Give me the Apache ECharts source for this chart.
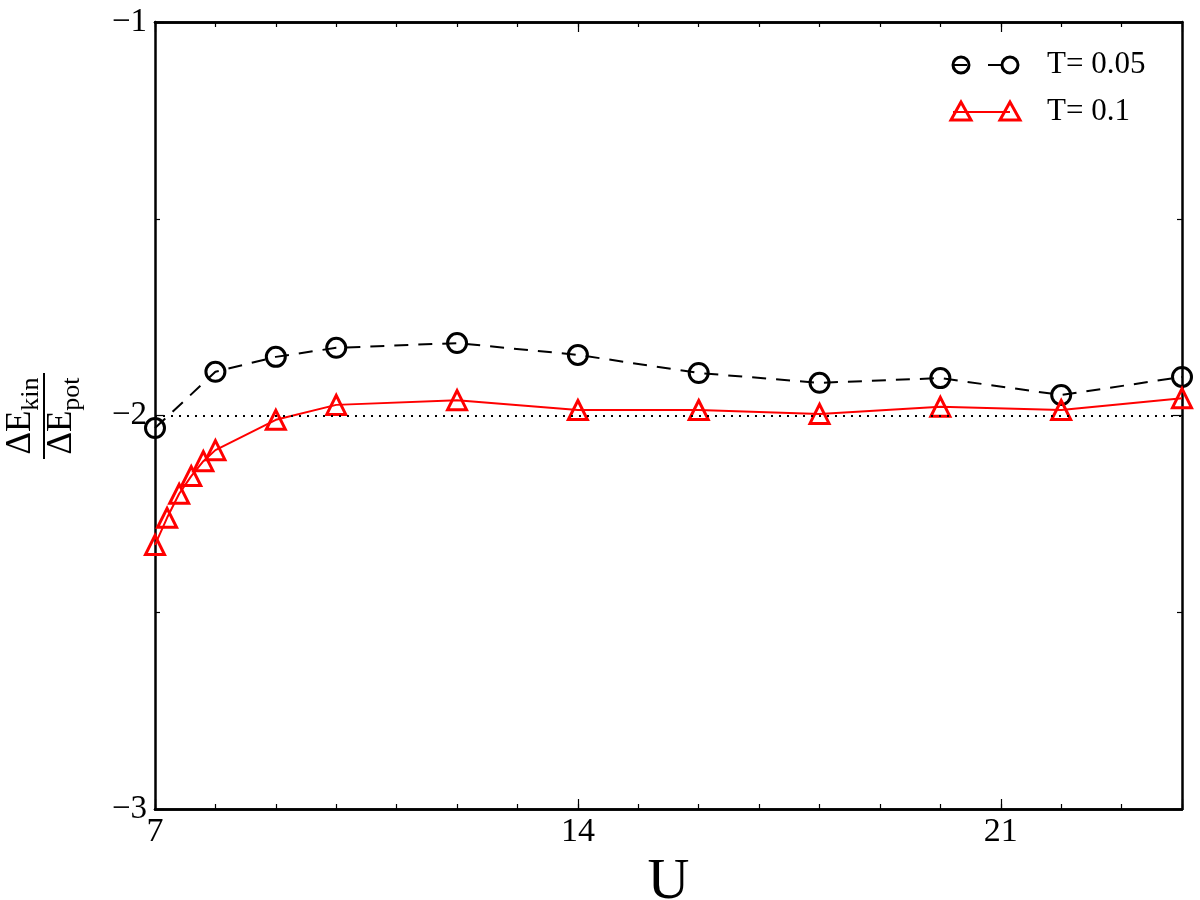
<!DOCTYPE html>
<html>
<head>
<meta charset="utf-8">
<script src="https://cdn.jsdelivr.net/npm/echarts@6/dist/echarts.min.js"></script>
<style>
  html, body { margin: 0; padding: 0; background: #fff; }
  #chart { width: 1200px; height: 900px; }
</style>
</head>
<body>
<div id="chart"></div>
<script>
// U 值
const uLow = [7, 8, 9, 10, 12, 14, 16, 18, 20, 22, 24];
const ratioLow = [-2.032, -1.889, -1.851, -1.828, -1.816, -1.846, -1.892, -1.917, -1.905, -1.948, -1.902];
const uHigh = [7, 7.2, 7.4, 7.6, 7.8, 8, 9, 10, 12, 14, 16, 18, 20, 22, 24];
const ratioHigh = [-2.329, -2.260, -2.199, -2.154, -2.116, -2.088, -2.011, -1.973, -1.961, -1.986, -1.986, -1.996, -1.978, -1.986, -1.956];
const seriesNames = ["T= 0.05", "T= 0.1"];
const xTicks = [7, 14, 21];
const yTicks = [-1, -2, -3];
const refLine = -2;

const serif = "'Liberation Serif', 'DejaVu Serif', serif";
const fmtMinus = v => (v < 0 ? "\u2212" + Math.abs(v) : String(v));

const chart = echarts.init(document.getElementById("chart"));

function pairs(xs, ys) {
  return xs.map((x, i) => [x, ys[i]]);
}

// x 轴: 主刻度 + 次刻度, 上下各一条
function xAxisOf(position, interval, tickLen, withLabel) {
  return {
    type: "value",
    position: position,
    min: 7,
    max: 24,
    interval: interval,
    axisLine: { show: true, onZero: false, lineStyle: { color: "#000", width: 2.5 } },
    axisTick: { show: true, inside: true, length: tickLen, lineStyle: { color: "#000", width: 1.2 } },
    axisLabel: {
      show: withLabel,
      color: "#000",
      fontFamily: serif,
      fontSize: 34,
      margin: 6,
      formatter: v => (xTicks.indexOf(v) >= 0 ? String(v) : "")
    },
    splitLine: { show: false },
    name: withLabel ? "U" : "",
    nameLocation: "middle",
    nameGap: 38,
    nameTextStyle: { color: "#000", fontFamily: serif, fontSize: 58, verticalAlign: "top" }
  };
}

function yAxisOf(position, withLabel) {
  return {
    type: "value",
    position: position,
    min: -3,
    max: -1,
    interval: 1,
    axisLine: { show: true, onZero: false, lineStyle: { color: "#000", width: 2.5 } },
    axisTick: { show: true, inside: true, length: 9, lineStyle: { color: "#000", width: 1.2 } },
    minorTick: { show: true, splitNumber: 2, length: 5, lineStyle: { color: "#000", width: 1.2 } },
    axisLabel: {
      show: withLabel,
      color: "#000",
      fontFamily: serif,
      fontSize: 33,
      margin: 8,
      formatter: v => (yTicks.indexOf(v) >= 0 ? fmtMinus(v) : "")
    },
    splitLine: { show: false }
  };
}

// 图例 (两端带标记)
function legendItem(y, name, color, dash, marker) {
  const kids = [
    {
      type: "line",
      shape: { x1: 953, y1: y, x2: 1010, y2: y },
      style: { stroke: color, lineWidth: 2, lineDash: dash }
    }
  ];
  [961, 1010].forEach(cx => {
    if (marker === "circle") {
      kids.push({
        type: "circle",
        shape: { cx: cx, cy: y, r: 8 },
        style: { fill: "none", stroke: color, lineWidth: 3 }
      });
    } else {
      kids.push({
        type: "polygon",
        shape: { points: [[cx, y - 10], [cx - 10, y + 8], [cx + 10, y + 8]] },
        style: { fill: "none", stroke: color, lineWidth: 3 }
      });
    }
  });
  kids.push({
    type: "text",
    x: 1047,
    y: y,
    style: { text: name, fill: "#000", fontFamily: serif, fontSize: 31, verticalAlign: "middle" }
  });
  return { type: "group", children: kids };
}

const fracRich = {
  a: { fontFamily: serif, fontSize: 35, lineHeight: 46, verticalAlign: "middle", fill: "#000" },
  s: { fontFamily: serif, fontSize: 26, lineHeight: 46, verticalAlign: "bottom", fill: "#000" }
};

const option = {
  backgroundColor: "#fff",
  animation: false,
  grid: { left: 155, right: 18, top: 22, bottom: 91, containLabel: false, outerBoundsMode: "none" },
  xAxis: [
    xAxisOf("bottom", 7, 10, true),
    xAxisOf("bottom", 1, 5, false),
    xAxisOf("top", 7, 10, false),
    xAxisOf("top", 1, 5, false)
  ],
  yAxis: [yAxisOf("left", true), yAxisOf("right", false)],
  legend: { show: false },
  graphic: [
    {
      type: "group",
      x: 44,
      y: 416,
      rotation: Math.PI / 2,
      children: [
        {
          type: "text",
          x: 0,
          y: 0,
          style: { text: "{a|ΔE}{s|kin}", align: "center", verticalAlign: "bottom", rich: fracRich }
        },
        {
          type: "line",
          shape: { x1: -43, y1: 0, x2: 43, y2: 0 },
          style: { stroke: "#000", lineWidth: 2 }
        },
        {
          type: "text",
          x: 0,
          y: -5,
          style: { text: "{a|ΔE}{s|pot}", align: "center", verticalAlign: "top", rich: fracRich }
        }
      ]
    },
    legendItem(65, seriesNames[0], "#000", [14, 21], "circle"),
    legendItem(112, seriesNames[1], "#ff0000", null, "triangle")
  ],
  series: [
    {
      name: seriesNames[0],
      type: "line",
      xAxisIndex: 0,
      yAxisIndex: 0,
      data: pairs(uLow, ratioLow),
      symbol: "circle",
      symbolSize: 19,
      lineStyle: { color: "#000", width: 2, type: [14, 10] },
      itemStyle: { color: "rgba(255,255,255,0)", borderColor: "#000", borderWidth: 3 },
      z: 3,
      markLine: {
        silent: true,
        symbol: ["none", "none"],
        label: { show: false },
        lineStyle: { color: "#000", width: 2, type: [2, 6] },
        data: [{ yAxis: refLine }]
      }
    },
    {
      name: seriesNames[1],
      type: "line",
      xAxisIndex: 0,
      yAxisIndex: 0,
      data: pairs(uHigh, ratioHigh),
      symbol: "triangle",
      symbolSize: 19,
      lineStyle: { color: "#ff0000", width: 2 },
      itemStyle: { color: "rgba(255,255,255,0)", borderColor: "#ff0000", borderWidth: 3 },
      z: 4
    }
  ]
};

chart.setOption(option);
</script>
</body>
</html>
